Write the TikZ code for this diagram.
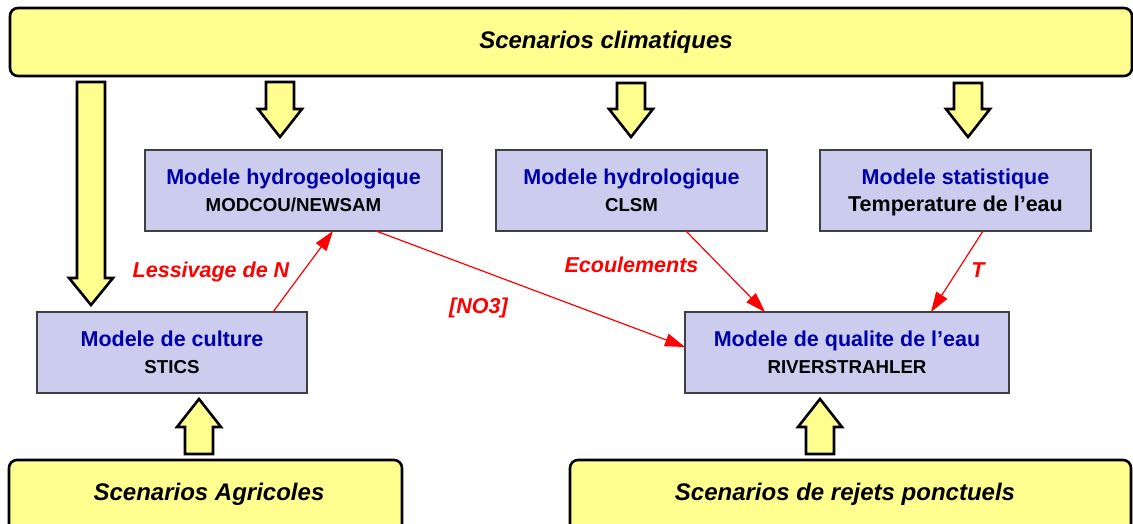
\documentclass[tikz,border=0pt]{standalone}
\usepackage{fontspec}
\setmainfont{Liberation Sans}
\usetikzlibrary{arrows.meta}
\definecolor{scenyellow}{HTML}{FFFF8F}
\definecolor{modfill}{HTML}{CCCCEE}
\definecolor{modborder}{HTML}{404040}
\definecolor{titleblue}{HTML}{0000AA}
\definecolor{fluxred}{HTML}{FF0000}
\newcommand\myblockarrow[4]{%
  \draw[blockarrow] ({#1-14},#2) -- ({#1+14},#2) -- ({#1+14},#3) -- ({#1+22},#3)
    -- (#1,#4) -- ({#1-22},#3) -- ({#1-14},#3) -- cycle;}
\tikzset{
  scenbox/.style={draw=black, line width=2.6pt, fill=scenyellow, rounded corners=8pt},
  scentext/.style={font=\fontsize{24}{28}\selectfont\bfseries\itshape, inner sep=0pt, anchor=base},
  blockarrow/.style={draw=black, line width=2.6pt, fill=scenyellow, line join=miter},
  modbox/.style={draw=modborder, line width=1.5pt, fill=modfill, rectangle,
    minimum height=81pt, inner sep=0pt, outer sep=0pt, align=center,
    font=\fontsize{21.5}{27}\selectfont\bfseries},
  fluxarrow/.style={draw=fluxred, line width=1.2pt, -{Triangle[length=20pt,width=13pt]}},
  fluxlabel/.style={text=fluxred, font=\fontsize{21.5}{26}\selectfont\bfseries\itshape, inner sep=0pt, anchor=base}
}
\newcommand\smallline[1]{{\fontsize{18.7}{27}\selectfont #1}}
\begin{document}
\begin{tikzpicture}[x=1pt,y=-1pt]
\useasboundingbox (0,0) rectangle (1133,524);
% scenario boxes
\draw[scenbox] (10,8) rectangle (1132,76);
\node[scentext] (climat) at (606,49) {Scenarios climatiques};
\draw[scenbox] (9,460) rectangle (402,560);
\node[scentext] (agri) at (209,500) {Scenarios Agricoles};
\draw[scenbox] (570,460) rectangle (1131,560);
\node[scentext] (rejets) at (845,500) {Scenarios de rejets ponctuels};
% block arrows
\myblockarrow{91}{82}{278}{305}
\myblockarrow{280}{82}{109}{137}
\myblockarrow{631}{83}{109}{137}
\myblockarrow{968}{83}{109}{137}
\myblockarrow{199}{454}{427}{399}
\myblockarrow{820}{454}{427}{399}
% model boxes
\node[modbox, minimum width=297pt] (hgeo) at (293.5,190.5)
  {\textcolor{titleblue}{Modele hydrogeologique}\\\smallline{MODCOU/NEWSAM}};
\node[modbox, minimum width=271pt] (clsm) at (631.5,190.5)
  {\textcolor{titleblue}{Modele hydrologique}\\\smallline{CLSM}};
\node[modbox, minimum width=271pt] (stat) at (955.5,190.5)
  {\textcolor{titleblue}{Modele statistique}\\\raisebox{0pt}[\height][0pt]{Temperature de l’eau}};
\node[modbox, minimum width=270pt] (cult) at (172,352.5)
  {\textcolor{titleblue}{Modele de culture}\\\smallline{STICS}};
\node[modbox, minimum width=324pt] (qual) at (847,352.5)
  {\textcolor{titleblue}{Modele de qualite de l’eau}\\\smallline{RIVERSTRAHLER}};
% flux connectors
\draw[fluxarrow] ([xshift=-34pt]cult.north east) -- ([xshift=188pt]hgeo.south west);
\draw[fluxarrow] ([xshift=-66pt]hgeo.south east) -- ([yshift=5.5pt]qual.west);
\draw[fluxarrow] ([xshift=-81pt]clsm.south east) -- ([xshift=80pt]qual.north west);
\draw[fluxarrow] ([xshift=163pt]stat.south west) -- ([xshift=-78pt]qual.north east);
% flux labels
\node[fluxlabel] (lessiv) at (211,277) {Lessivage de N};
\node[fluxlabel] (no3) at (478.5,313) {[NO3]};
\node[fluxlabel] (ecoul) at (631.5,272) {Ecoulements};
\node[fluxlabel] (temp) at (978,277) {T};
\end{tikzpicture}
\end{document}
